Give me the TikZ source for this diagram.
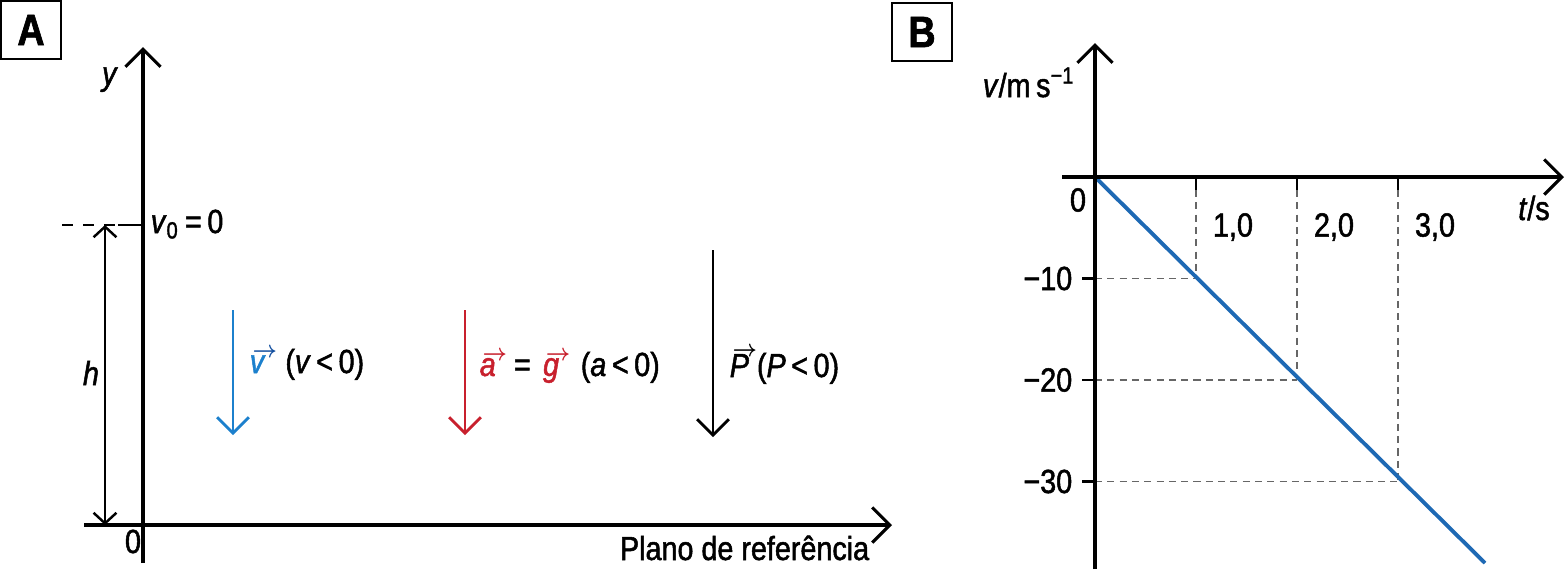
\documentclass[tikz,border=0pt]{standalone}
\usepackage{amsmath}
\usepackage{graphicx}
\usepackage{fontspec}
\setmainfont{Liberation Sans}[FakeStretch=0.86, FakeBold=1.5]
\usetikzlibrary{arrows.meta,positioning}
\definecolor{vblue}{RGB}{28,128,205}
\definecolor{vdark}{RGB}{20,80,160}
\definecolor{gblue}{RGB}{30,105,180}
\definecolor{ared}{RGB}{200,32,45}
\newcommand{\vecl}[2][]{\leavevmode\vbox{\offinterlineskip\halign{##\hfil\cr
  \kern0.8pt{\color{#1}\scalebox{0.65}[0.75]{$\boldsymbol{\rightarrow}$}}\cr
  \noalign{\kern-0.6pt}\textit{#2}\cr}}}

\begin{document}
\begin{tikzpicture}[x=0.01cm, y=-0.01cm, font=\fontsize{9.5}{11}\selectfont, inner sep=0.6pt,
  axis/.style={line width=0.9pt, -{Straight Barb[length=5pt,width=10pt]}},
  force/.style={line width=0.8pt, -{Straight Barb[length=4.5pt,width=9pt]}},
  dimline/.style={line width=0.7pt, {Straight Barb[length=3pt,width=6.5pt]}-{Straight Barb[length=3pt,width=6.5pt]}},
  guide/.style={gray!80!black, line width=0.35pt, dash pattern=on 2pt off 1.5pt},
  tick/.style={line width=0.6pt},
  tag/.style={draw, line width=0.6pt, minimum width=0.6cm, minimum height=0.58cm,
              font=\fontsize{12.5}{14}\selectfont\bfseries}]
  \useasboundingbox (0,0) rectangle (1568,569);

  % A
  \node[tag] (tagA) at (31,30) {A};
  \coordinate (ybot) at (143,563);
  \coordinate (ytop) at (143,47);
  \coordinate (xl) at (84,525);
  \coordinate (xr) at (892,525);
  \draw[axis] (ybot) -- (ytop);
  \draw[axis] (xl) -- (xr);
  \node[anchor=base] (ylab) at (110,85) {\textit{y}};
  \node[anchor=base] (zero) at (133,553) {0};
  \node[anchor=base east] (plano) at (872,560) {Plano de referência};

  \coordinate (hl) at (62,225);
  \coordinate (hm) at (118,225);
  \coordinate (hv) at (143,225);
  \draw[dashed, line width=0.6pt] (hl) -- (hm);
  \draw[line width=0.6pt] (hm) -- (hv);
  \node[anchor=base west] (v0lab) at (148,233) {\textit{v}\textsubscript{0}\,=\,0};
  \coordinate (htop) at (105,225);
  \coordinate (hbot) at (105,525);
  \draw[dimline] (htop) -- (hbot);
  \node[anchor=base] (hlab) at (91,385) {\textit{h}};

  \coordinate (vs) at (233,310);
  \coordinate (ve) at (233,435);
  \draw[force, vblue] (vs) -- (ve);
  \node[anchor=base west] (vlab) at (247,373)
    {\textcolor{vblue}{\vecl[vdark]{v}}\hspace{2.4pt}(\textit{v}\,<\,0)};
  \coordinate (as) at (465,310);
  \coordinate (ae) at (465,435);
  \draw[force, ared] (as) -- (ae);
  \node[anchor=base west] (alab) at (477,376)
    {\textcolor{ared}{\vecl[ared]{a}}\hspace{2pt}=\hspace{3.5pt}\textcolor{ared}{\vecl[ared]{g}}\hspace{3pt}(\textit{a}\,<\,0)};
  \coordinate (ps) at (713,250);
  \coordinate (pe) at (713,437);
  \draw[force] (ps) -- (pe);
  \node[anchor=base west] (plab) at (727,377) {\vecl[black]{P}(\textit{P}\,<\,0)};

  % B
  \node[tag] (tagB) at (922,32) {B};
  \coordinate (O) at (1095,177);
  \coordinate (Ybot) at (1095,569);
  \coordinate (Ytop) at (1095,43);
  \coordinate (Xl) at (1062,177);
  \coordinate (Xr) at (1564,177);
  \foreach \t/\l in {1/{1,0},2/{2,0},3/{3,0}} {
    \coordinate (tx\t) at ({1095+101*\t},177);
    \coordinate (tb\t) at ({1095+101*\t},190);
    \coordinate (pt\t) at ({1095+101*\t},{177+101.5*\t});
    \coordinate (ty\t) at (1095,{177+101.5*\t});
    \coordinate (tl\t) at (1082,{177+101.5*\t});
    \draw[tick] (tx\t) -- (tb\t);
    \draw[guide] (tb\t) -- (pt\t);
    \draw[guide] (ty\t) -- (pt\t);
    \draw[tick] (tl\t) -- (ty\t);
    \node (xn\t) at ({1132+101*\t},227) {\l};
    \node[anchor=east] (yn\t) at (1075,{177+101.5*\t}) {−\t0};
  }
  \coordinate (vend) at (1485,563);
  \draw[gblue, line width=1.1pt] (O) -- (vend);
  \draw[axis] (Ybot) -- (Ytop);
  \draw[axis] (Xl) -- (Xr);
  \node[anchor=base east] (vaxlab) at (1078,97) {\textit{v}/m\,s\textsuperscript{−1}};
  \node (Olab) at (1078,200) {0};
  \node (taxlab) at (1534,208) {\textit{t}/s};
\end{tikzpicture}
\end{document}
